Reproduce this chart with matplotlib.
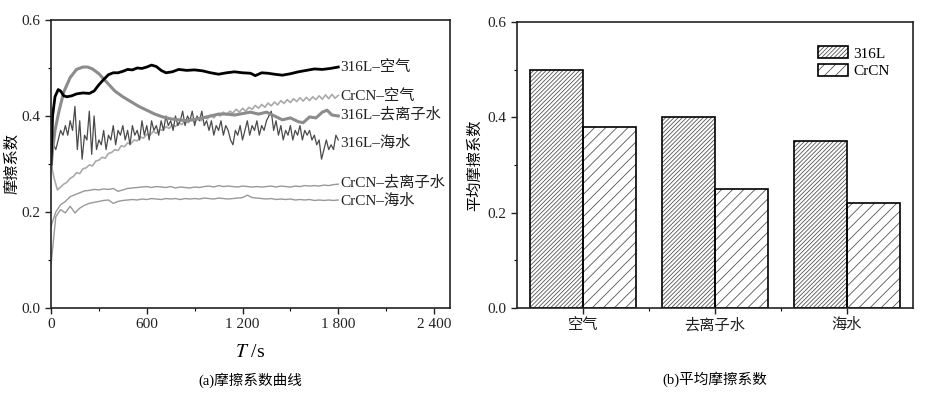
import numpy as np
import matplotlib
matplotlib.use("Agg")
import matplotlib.pyplot as plt
from matplotlib.patches import Patch
from matplotlib.legend_handler import HandlerTuple
from matplotlib.ticker import MultipleLocator, FixedLocator, FuncFormatter

plt.rcParams['font.family'] = ['Liberation Serif', 'Noto Sans CJK SC']
plt.rcParams['mathtext.fontset'] = 'stix'
plt.rcParams['hatch.linewidth'] = 0.6

# ---- (a) friction curves ----
t_316_air = [0, 10, 25, 45, 60, 80, 100, 130, 160, 200,
             240, 270, 300, 330, 360, 390, 420, 450, 480, 510,
             540, 570, 600, 630, 660, 690, 720, 760, 800, 850,
             900, 950, 1000, 1050, 1100, 1150, 1200, 1250, 1280, 1320,
             1360, 1400, 1450, 1500, 1550, 1600, 1650, 1700, 1750, 1800]
mu_316_air = [0.30, 0.40, 0.44, 0.455, 0.452, 0.442, 0.440, 0.442, 0.446, 0.448,
              0.447, 0.452, 0.465, 0.476, 0.486, 0.490, 0.490, 0.493, 0.497, 0.496,
              0.500, 0.499, 0.502, 0.506, 0.503, 0.495, 0.490, 0.492, 0.497, 0.495,
              0.496, 0.494, 0.490, 0.487, 0.490, 0.492, 0.490, 0.489, 0.484, 0.490,
              0.489, 0.487, 0.485, 0.488, 0.492, 0.495, 0.498, 0.497, 0.499, 0.502]

t_316_di = [0, 10, 25, 50, 80, 120, 160, 200, 230, 260,
            300, 350, 400, 450, 500, 550, 600, 650, 700, 750,
            800, 850, 900, 950, 1000, 1050, 1100, 1150, 1200, 1250,
            1300, 1350, 1400, 1450, 1500, 1550, 1580, 1620, 1660, 1700,
            1730, 1760, 1800]
mu_316_di = [0.29, 0.33, 0.37, 0.41, 0.45, 0.48, 0.497, 0.502, 0.502, 0.498,
             0.488, 0.470, 0.452, 0.440, 0.430, 0.420, 0.412, 0.404, 0.398, 0.394,
             0.392, 0.390, 0.393, 0.396, 0.400, 0.404, 0.404, 0.402, 0.405, 0.408,
             0.404, 0.408, 0.400, 0.392, 0.396, 0.388, 0.386, 0.398, 0.396, 0.408,
             0.412, 0.402, 0.400]

# sampled every 15 s
mu_316_sea = [0.31, 0.34, 0.33, 0.35, 0.37, 0.36, 0.38, 0.36, 0.39, 0.37,
              0.42, 0.33, 0.39, 0.31, 0.36, 0.35, 0.41, 0.32, 0.40, 0.33,
              0.35, 0.34, 0.37, 0.33, 0.36, 0.35, 0.38, 0.34, 0.37, 0.36,
              0.38, 0.35, 0.37, 0.34, 0.38, 0.36, 0.37, 0.35, 0.39, 0.36,
              0.38, 0.35, 0.39, 0.37, 0.38, 0.36, 0.39, 0.37, 0.40, 0.38,
              0.39, 0.37, 0.40, 0.38, 0.39, 0.41, 0.38, 0.40, 0.39, 0.41,
              0.38, 0.40, 0.39, 0.41, 0.38, 0.39, 0.37, 0.39, 0.36, 0.38,
              0.37, 0.39, 0.36, 0.38, 0.37, 0.35, 0.34, 0.37, 0.36, 0.38,
              0.35, 0.37, 0.39, 0.36, 0.38, 0.37, 0.39, 0.36, 0.38, 0.37,
              0.39, 0.40, 0.41, 0.37, 0.39, 0.36, 0.38, 0.35, 0.37, 0.36,
              0.38, 0.35, 0.37, 0.36, 0.38, 0.35, 0.37, 0.36, 0.37, 0.35,
              0.36, 0.34, 0.35, 0.31, 0.33, 0.35, 0.33, 0.34, 0.33, 0.36,
              0.35]

# sampled every 20 s
mu_crcn_air = [0.300, 0.270, 0.246, 0.252, 0.258, 0.262, 0.270, 0.274, 0.282, 0.280,
               0.290, 0.292, 0.298, 0.296, 0.306, 0.308, 0.314, 0.312, 0.322, 0.324,
               0.330, 0.328, 0.338, 0.336, 0.344, 0.342, 0.350, 0.348, 0.356, 0.354,
               0.362, 0.360, 0.368, 0.364, 0.372, 0.370, 0.378, 0.374, 0.382, 0.378,
               0.386, 0.382, 0.390, 0.386, 0.393, 0.388, 0.396, 0.390, 0.398, 0.394,
               0.402, 0.396, 0.404, 0.400, 0.408, 0.402, 0.410, 0.406, 0.414, 0.408,
               0.416, 0.410, 0.418, 0.414, 0.422, 0.416, 0.424, 0.418, 0.427, 0.421,
               0.429, 0.423, 0.432, 0.426, 0.434, 0.428, 0.436, 0.430, 0.438, 0.431,
               0.439, 0.432, 0.440, 0.434, 0.442, 0.435, 0.444, 0.436, 0.445, 0.437,
               0.443]

# sampled every 30 s
mu_crcn_di = [0.170, 0.200, 0.215, 0.222, 0.232, 0.236, 0.240, 0.244, 0.245, 0.247,
              0.246, 0.248, 0.247, 0.249, 0.243, 0.246, 0.249, 0.250, 0.251, 0.252,
              0.253, 0.251, 0.253, 0.252, 0.251, 0.253, 0.250, 0.252, 0.251, 0.250,
              0.252, 0.251, 0.253, 0.254, 0.252, 0.255, 0.253, 0.254, 0.253, 0.252,
              0.254, 0.253, 0.252, 0.253, 0.252, 0.253, 0.254, 0.252, 0.254, 0.253,
              0.252, 0.254, 0.253, 0.255, 0.254, 0.255, 0.254, 0.256, 0.255, 0.257,
              0.258]
mu_crcn_sea = [0.090, 0.190, 0.205, 0.198, 0.212, 0.198, 0.208, 0.214, 0.218, 0.220,
               0.222, 0.224, 0.225, 0.218, 0.222, 0.224, 0.225, 0.226, 0.225, 0.227,
               0.226, 0.228, 0.227, 0.226, 0.228, 0.227, 0.228, 0.226, 0.228, 0.227,
               0.228, 0.227, 0.229, 0.228, 0.227, 0.229, 0.228, 0.227, 0.228, 0.229,
               0.230, 0.235, 0.230, 0.229, 0.228, 0.227, 0.228, 0.226, 0.227, 0.226,
               0.227, 0.225, 0.226, 0.225, 0.226, 0.224, 0.225, 0.224, 0.225, 0.224,
               0.225]

curve_labels = ['316L–空气', 'CrCN–空气', '316L–去离子水', '316L–海水',
                'CrCN–去离子水', 'CrCN–海水']
label_y = [0.502, 0.442, 0.404, 0.344, 0.262, 0.223]

# ---- (b) mean friction coefficient ----
media = ['空气', '去离子水', '海水']
mean_316 = [0.50, 0.40, 0.35]
mean_crcn = [0.38, 0.25, 0.22]


def grid_t(vals):
    return np.linspace(0, 1800, len(vals))


fig = plt.figure(figsize=(9.29, 3.94), dpi=100)
ax1 = fig.add_axes([0.0549, 0.2183, 0.4295, 0.731])
ax2 = fig.add_axes([0.5565, 0.2183, 0.4263, 0.726])

ax1.plot(grid_t(mu_crcn_di), mu_crcn_di, color='#999999', lw=1.0)
ax1.plot(grid_t(mu_crcn_sea), mu_crcn_sea, color='#999999', lw=1.0)
ax1.plot(grid_t(mu_crcn_air), mu_crcn_air, color='#aaaaaa', lw=1.2)
ax1.plot(grid_t(mu_316_sea), mu_316_sea, color='#4a4a4a', lw=0.9)
ax1.plot(t_316_di, mu_316_di, color='#8c8c8c', lw=2.2)
ax1.plot(t_316_air, mu_316_air, color='black', lw=2.0)

for lab, yy in zip(curve_labels, label_y):
    ax1.text(1812, yy, lab, fontsize=11, va='center', ha='left', color='#222222')

ax1.set_xlim(0, 2500)
ax1.set_ylim(0, 0.6)
ax1.xaxis.set_major_locator(FixedLocator([0, 600, 1200, 1800, 2400]))
ax1.xaxis.set_minor_locator(FixedLocator([300, 900, 1500, 2100]))
ax1.xaxis.set_major_formatter(FuncFormatter(
    lambda v, p: '{:,}'.format(int(v)).replace(',', ' ')))
ax1.yaxis.set_major_locator(MultipleLocator(0.2))
ax1.yaxis.set_minor_locator(MultipleLocator(0.1))
ax1.yaxis.set_major_formatter(FuncFormatter(lambda v, p: '%.1f' % v))
ax1.set_xlabel(r'$T$ /s', fontsize=14, labelpad=9)
ax1.set_ylabel('摩擦系数', fontsize=11, labelpad=2)
ax1.text(0.5, -0.25, '(a)摩擦系数曲线', transform=ax1.transAxes,
         ha='center', va='center', fontsize=10.5)

x = np.arange(1, len(media) + 1)
# hatch drawn in grey, outline drawn black on top
ax2.bar(x - 0.2, mean_316, width=0.4, facecolor='white',
        edgecolor='#555555', lw=0, hatch='////////')
ax2.bar(x + 0.2, mean_crcn, width=0.4, facecolor='white',
        edgecolor='#555555', lw=0, hatch='///')
ax2.bar(x - 0.2, mean_316, width=0.4, fill=False, edgecolor='black', lw=1.2)
ax2.bar(x + 0.2, mean_crcn, width=0.4, fill=False, edgecolor='black', lw=1.2)
ax2.set_xlim(0.5, 3.5)
ax2.set_ylim(0, 0.6)
ax2.set_xticks(x)
ax2.set_xticklabels(media, fontsize=11)
ax2.xaxis.set_minor_locator(FixedLocator([1.5, 2.5]))
ax2.yaxis.set_major_locator(MultipleLocator(0.2))
ax2.yaxis.set_minor_locator(MultipleLocator(0.1))
ax2.yaxis.set_major_formatter(FuncFormatter(lambda v, p: '%.1f' % v))
ax2.set_ylabel('平均摩擦系数', fontsize=11, labelpad=4)
ax2.text(0.5, -0.25, '(b)平均摩擦系数', transform=ax2.transAxes,
         ha='center', va='center', fontsize=10.5)

leg_316 = (Patch(facecolor='white', edgecolor='#555555', lw=0, hatch='////////'),
           Patch(fill=False, edgecolor='black', lw=1.2))
leg_cr = (Patch(facecolor='white', edgecolor='#555555', lw=0, hatch='///'),
          Patch(fill=False, edgecolor='black', lw=1.2))
ax2.legend([leg_316, leg_cr], ['316L', 'CrCN'],
           handler_map={tuple: HandlerTuple(ndivide=1, pad=0)},
           loc='upper right', bbox_to_anchor=(0.94, 0.915), frameon=False,
           fontsize=11, handlelength=2.0, handleheight=0.85, labelspacing=0.2,
           handletextpad=0.3, borderpad=0, borderaxespad=0)

for ax in (ax1, ax2):
    for s in ax.spines.values():
        s.set_linewidth(1.2)
        s.set_color('#222222')
    ax.tick_params(which='major', direction='out', length=4, width=1,
                   labelsize=11, colors='#222222', top=False, right=False)
    ax.tick_params(which='minor', direction='out', length=2.5, width=0.8,
                   top=False, right=False)

fig.savefig('out.png', dpi=100)
